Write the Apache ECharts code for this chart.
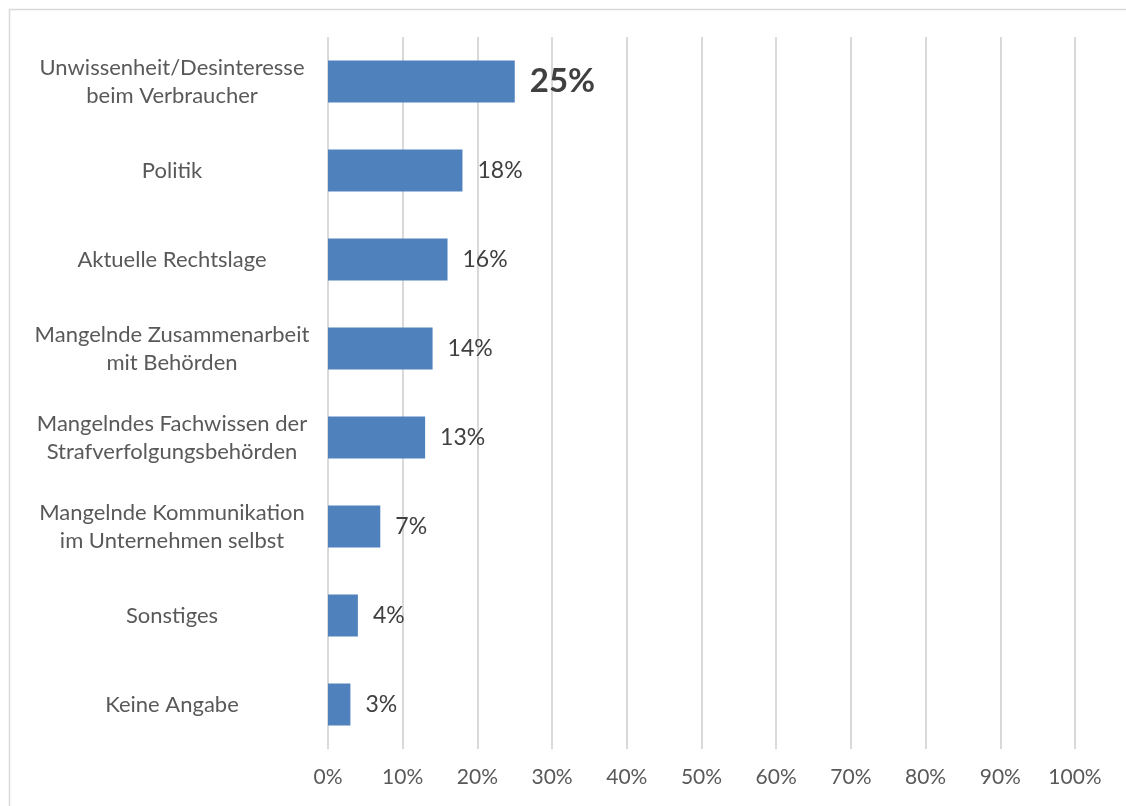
<!DOCTYPE html>
<html>
<head>
<meta charset="utf-8">
<script src="https://cdn.jsdelivr.net/npm/echarts@6/dist/echarts.min.js"></script>
<style>
  html, body { margin: 0; padding: 0; background: #fff; }
  #chart { width: 1126px; height: 806px; }
</style>
</head>
<body>
<div id="chart"></div>
<script>
// Ursachen, Anteil der Nennungen in Prozent
const categories = [
  'Unwissenheit/Desinteresse\nbeim Verbraucher',
  'Politik',
  'Aktuelle Rechtslage',
  'Mangelnde Zusammenarbeit\nmit Behörden',
  'Mangelndes Fachwissen der\nStrafverfolgungsbehörden',
  'Mangelnde Kommunikation\nim Unternehmen selbst',
  'Sonstiges',
  'Keine Angabe'
];
const shares = [25, 18, 16, 14, 13, 7, 4, 3];
const highlightIndex = 0;

const FONT = 'Lato, "Open Sans", sans-serif';

const chart = echarts.init(document.getElementById('chart'), null, { renderer: 'canvas' });

const barData = shares.map((v, i) => {
  const item = { value: v };
  if (i === highlightIndex) {
    item.label = { fontSize: 33, fontWeight: 'bold', color: '#404040' };
  }
  return item;
});

chart.setOption({
  animation: false,
  backgroundColor: '#ffffff',
  graphic: [{
    type: 'rect',
    left: 7, top: 7,
    shape: { width: 1140, height: 820 },
    style: { fill: 'none', stroke: '#d9d9d9', lineWidth: 1.5 },
    silent: true
  }],
  grid: { left: 328, right: 51, top: 37, bottom: 57, containLabel: false },
  xAxis: {
    type: 'value',
    min: 0, max: 100, interval: 10,
    axisLine: { show: false },
    axisTick: { show: false },
    splitLine: { show: true, lineStyle: { color: '#d9d9d9', width: 2 } },
    axisLabel: {
      formatter: '{value}%',
      color: '#595959',
      fontFamily: FONT,
      fontSize: 21,
      margin: 18
    }
  },
  yAxis: {
    type: 'category',
    data: categories,
    inverse: true,
    axisLine: { show: false },
    axisTick: { show: false },
    splitLine: { show: false },
    axisLabel: {
      align: 'center',
      margin: 156,
      color: '#595959',
      fontFamily: FONT,
      fontSize: 22,
      lineHeight: 28
    }
  },
  series: [{
    type: 'bar',
    data: barData,
    barCategoryGap: '53%',
    itemStyle: { color: '#4f81bd' },
    label: {
      show: true,
      position: 'right',
      distance: 15,
      formatter: '{c}%',
      color: '#404040',
      fontFamily: FONT,
      fontSize: 23
    }
  }]
});
</script>
</body>
</html>
